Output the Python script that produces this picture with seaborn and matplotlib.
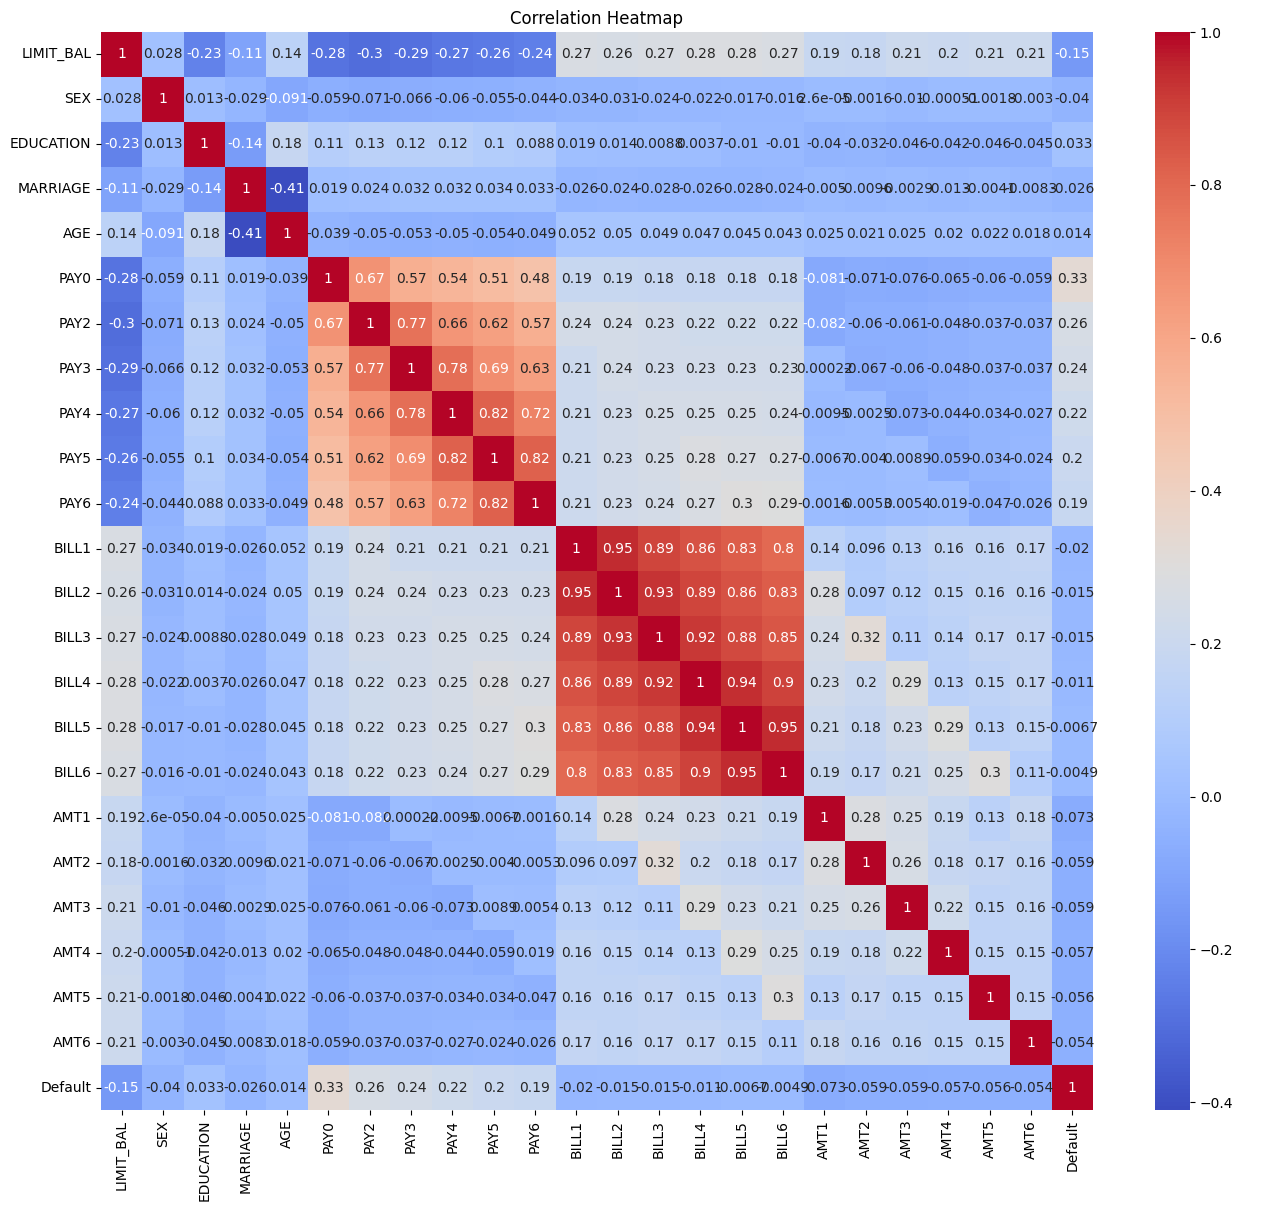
import matplotlib
matplotlib.use('Agg')
import matplotlib.pyplot as plt
import seaborn as sns
import pandas as pd
import numpy as np

cols = ['LIMIT_BAL', 'SEX', 'EDUCATION', 'MARRIAGE', 'AGE',
        'PAY0', 'PAY2', 'PAY3', 'PAY4', 'PAY5', 'PAY6',
        'BILL1', 'BILL2', 'BILL3', 'BILL4', 'BILL5', 'BILL6',
        'AMT1', 'AMT2', 'AMT3', 'AMT4', 'AMT5', 'AMT6', 'Default']

# correlacao de cada variavel com as seguintes (triangulo superior)
limit_bal = [0.028, -0.23, -0.11, 0.14, -0.28, -0.3, -0.29, -0.27, -0.26, -0.24,
             0.27, 0.26, 0.27, 0.28, 0.28, 0.27, 0.19, 0.18, 0.21, 0.2, 0.21, 0.21, -0.15]
sex = [0.013, -0.029, -0.091, -0.059, -0.071, -0.066, -0.06, -0.055, -0.044,
       -0.034, -0.031, -0.024, -0.022, -0.017, -0.016,
       2.6e-05, -0.0016, -0.01, -0.00051, -0.0018, -0.003, -0.04]
education = [-0.14, 0.18, 0.11, 0.13, 0.12, 0.12, 0.1, 0.088,
             0.019, 0.014, 0.0088, 0.0037, -0.01, -0.01,
             -0.04, -0.032, -0.046, -0.042, -0.046, -0.045, 0.033]
marriage = [-0.41, 0.019, 0.024, 0.032, 0.032, 0.034, 0.033,
            -0.026, -0.024, -0.028, -0.026, -0.028, -0.024,
            -0.005, -0.0096, -0.0029, -0.013, -0.0041, -0.0083, -0.026]
age = [-0.039, -0.05, -0.053, -0.05, -0.054, -0.049,
       0.052, 0.05, 0.049, 0.047, 0.045, 0.043,
       0.025, 0.021, 0.025, 0.02, 0.022, 0.018, 0.014]
pay0 = [0.67, 0.57, 0.54, 0.51, 0.48, 0.19, 0.19, 0.18, 0.18, 0.18, 0.18,
        -0.081, -0.071, -0.076, -0.065, -0.06, -0.059, 0.33]
pay2 = [0.77, 0.66, 0.62, 0.57, 0.24, 0.24, 0.23, 0.22, 0.22, 0.22,
        -0.082, -0.06, -0.061, -0.048, -0.037, -0.037, 0.26]
pay3 = [0.78, 0.69, 0.63, 0.21, 0.24, 0.23, 0.23, 0.23, 0.23,
        0.00022, -0.067, -0.06, -0.048, -0.037, -0.037, 0.24]
pay4 = [0.82, 0.72, 0.21, 0.23, 0.25, 0.25, 0.25, 0.24,
        -0.0095, -0.0025, -0.073, -0.044, -0.034, -0.027, 0.22]
pay5 = [0.82, 0.21, 0.23, 0.25, 0.28, 0.27, 0.27,
        -0.0067, -0.004, 0.0089, -0.059, -0.034, -0.024, 0.2]
pay6 = [0.21, 0.23, 0.24, 0.27, 0.3, 0.29,
        -0.0016, -0.0053, 0.0054, 0.019, -0.047, -0.026, 0.19]
bill1 = [0.95, 0.89, 0.86, 0.83, 0.8, 0.14, 0.096, 0.13, 0.16, 0.16, 0.17, -0.02]
bill2 = [0.93, 0.89, 0.86, 0.83, 0.28, 0.097, 0.12, 0.15, 0.16, 0.16, -0.015]
bill3 = [0.92, 0.88, 0.85, 0.24, 0.32, 0.11, 0.14, 0.17, 0.17, -0.015]
bill4 = [0.94, 0.9, 0.23, 0.2, 0.29, 0.13, 0.15, 0.17, -0.011]
bill5 = [0.95, 0.21, 0.18, 0.23, 0.29, 0.13, 0.15, -0.0067]
bill6 = [0.19, 0.17, 0.21, 0.25, 0.3, 0.11, -0.0049]
amt1 = [0.28, 0.25, 0.19, 0.13, 0.18, -0.073]
amt2 = [0.26, 0.18, 0.17, 0.16, -0.059]
amt3 = [0.22, 0.15, 0.16, -0.059]
amt4 = [0.15, 0.15, -0.057]
amt5 = [0.15, -0.056]
amt6 = [-0.054]

upper = [limit_bal, sex, education, marriage, age, pay0, pay2, pay3, pay4, pay5, pay6,
         bill1, bill2, bill3, bill4, bill5, bill6, amt1, amt2, amt3, amt4, amt5, amt6]

n = len(cols)
m = np.eye(n)
for i, row in enumerate(upper):
    m[i, i + 1:] = row
    m[i + 1:, i] = row
df_corr = pd.DataFrame(m, index=cols, columns=cols)

fig = plt.figure(figsize=(12.62, 12.11), dpi=100)
ax = fig.add_axes([101 / 1262, 1 - 1110 / 1211, 992 / 1262, 1078 / 1211])
cax = fig.add_axes([1155 / 1262, 1 - 1110 / 1211, 35 / 1262, 1078 / 1211])

#MAPA DE CALOR
sns.heatmap(df_corr, annot=True, cmap='coolwarm', ax=ax, cbar_ax=cax)
ax.set_title('Correlation Heatmap')
ax.tick_params(axis='x', rotation=90)
ax.tick_params(axis='y', rotation=0)
fig.savefig('out.png', dpi=100)
